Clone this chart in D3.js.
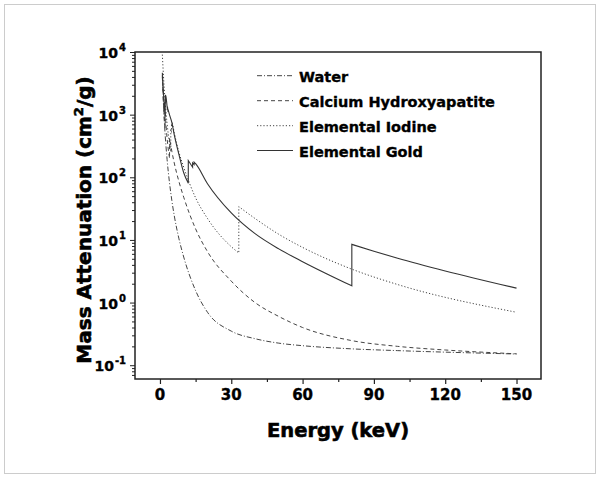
<!DOCTYPE html>
<html>
<head>
<meta charset="utf-8">
<script src="https://cdn.jsdelivr.net/npm/d3@7/dist/d3.min.js"></script>
<style>
  html, body { margin: 0; padding: 0; background: #fff; }
  svg { display: block; }
  text { font-family: "DejaVu Sans", sans-serif; font-weight: bold; fill: #000; stroke: #000; stroke-width: 0.35; }
  text.title { stroke-width: 0.6; }
</style>
</head>
<body>
<svg id="chart" width="601" height="479"></svg>
<script>
// ---- Data ----
const waterE  = [1, 1.5, 2, 3, 4, 5, 6, 8, 10, 15, 20, 30, 40, 50, 60, 80, 100, 150];
const waterMu = [4078, 1376, 617, 193, 82.8, 42.6, 24.6, 10.4, 5.33, 1.55, 0.7, 0.35, 0.265, 0.225, 0.205, 0.183, 0.171, 0.151];

const cahaE  = [1, 1.5, 2, 2.145, 2.145, 3, 4.038, 4.038, 5, 6, 8, 10, 15, 20, 30, 40, 50, 60, 80, 100, 120, 150];
const cahaMu = [4300, 1500, 720, 600, 1100, 420, 200, 420, 260, 170, 85, 48, 15, 6.5, 2.2, 1.0, 0.6, 0.4, 0.25, 0.2, 0.175, 0.152];

const iodineE  = [1, 1.5, 2, 3, 4, 4.557, 4.557, 4.852, 4.852, 5.188, 5.188, 6, 8, 10, 15, 20, 30, 33.17, 33.17, 40, 50, 60, 80, 100, 150];
const iodineMu = [9096, 4000, 2000, 720, 350, 255, 600, 520, 720, 640, 740, 520, 250, 145, 47, 22, 7.8, 6.2, 34, 22, 12.3, 7.6, 3.5, 1.94, 0.70];

const goldE  = [1, 1.5, 2, 2.206, 2.206, 2.291, 2.291, 2.5, 3, 3.148, 3.148, 3.425, 3.425, 4, 5, 6, 8, 10, 11.92, 11.92, 13.73, 13.73, 14.35, 14.35, 15, 20, 30, 40, 50, 60, 80.72, 80.72, 90, 100, 120, 150];
const goldMu = [4652, 2090, 1137, 930, 1600, 1500, 2050, 1950, 1350, 1200, 1350, 1100, 1200, 1000, 750, 480, 230, 118, 80, 185, 145, 170, 160, 175, 165, 79, 27, 12.6, 7.2, 4.5, 1.85, 8.5, 6.6, 5.1, 3.2, 1.7];

const seriesNames = ["Water", "Calcium Hydroxyapatite", "Elemental Iodine", "Elemental Gold"];
const xTickValues = [0, 30, 60, 90, 120, 150];
const xMinorValues = [15, 45, 75, 105, 135];
const yDecades = [-1, 0, 1, 2, 3, 4];

// ---- Layout ----
const svg = d3.select("#chart");
const pL = 135, pR = 541, pT = 52, pB = 379;

const x = d3.scaleLinear().domain([-10.5, 160.3]).range([pL, pR]);
const y = d3.scaleLog().domain([Math.pow(10, -1.22), 1e4]).range([pB, pT]);

// outer dotted border
svg.append("rect")
  .attr("x", 4.5).attr("y", 4.5).attr("width", 591).attr("height", 469)
  .attr("fill", "none").attr("stroke", "#999").attr("stroke-width", 1)
  .attr("stroke-dasharray", "1,1");

// x axis ticks
const xAxisMajor = d3.axisBottom(x).tickValues(xTickValues).tickSize(5).tickFormat("");
const xAxisMinor = d3.axisBottom(x).tickValues(xMinorValues).tickSize(3).tickFormat("");
const gxa = svg.append("g").attr("transform", `translate(0,${pB})`).call(xAxisMajor);
const gxb = svg.append("g").attr("transform", `translate(0,${pB})`).call(xAxisMinor);
[gxa, gxb].forEach(g => { g.select(".domain").remove(); g.selectAll("line").attr("stroke", "#222").attr("stroke-width", 1.2); });

svg.append("g").selectAll("text").data(xTickValues).join("text")
  .attr("x", d => x(d)).attr("y", 400)
  .attr("text-anchor", "middle").attr("font-size", 15)
  .text(d => d);

// y axis ticks
const [yLo, yHi] = y.domain();
const yMinor = [];
for (let e = -2; e <= 3; e++) for (let m = 2; m <= 9; m++) {
  const v = m * Math.pow(10, e);
  if (v >= yLo && v <= yHi) yMinor.push(v);
}
const yMajorVals = yDecades.map(e => Math.pow(10, e));
const gya = svg.append("g").attr("transform", `translate(${pL},0)`).call(d3.axisLeft(y).tickValues(yMajorVals).tickSize(5).tickFormat(""));
const gyb = svg.append("g").attr("transform", `translate(${pL},0)`).call(d3.axisLeft(y).tickValues(yMinor).tickSize(3).tickFormat(""));
[gya, gyb].forEach(g => { g.select(".domain").remove(); g.selectAll("line").attr("stroke", "#222").attr("stroke-width", 1); });

const ylab = svg.append("g").selectAll("text").data(yDecades).join("text")
  .attr("x", 126).attr("y", d => y(Math.pow(10, d)) + 6)
  .attr("text-anchor", "end").attr("font-size", 14);
ylab.append("tspan").text("10");
ylab.append("tspan").attr("dx", 1).attr("dy", -7).attr("font-size", 10).text(d => d);

// frame
svg.append("rect")
  .attr("x", pL).attr("y", pT).attr("width", pR - pL).attr("height", pB - pT)
  .attr("fill", "none").attr("stroke", "#222").attr("stroke-width", 1.5);

// titles
svg.append("text").attr("class", "title").attr("x", (pL + pR) / 2).attr("y", 437)
  .attr("text-anchor", "middle").attr("font-size", 19.5).text("Energy (keV)");

const yt = svg.append("text").attr("class", "title")
  .attr("transform", "translate(91,220) rotate(-90)")
  .attr("text-anchor", "middle").attr("font-size", 20);
yt.append("tspan").text("Mass Attenuation (cm");
yt.append("tspan").attr("dy", -8).attr("font-size", 13).text("2");
yt.append("tspan").attr("dy", 8).text("/g)");

// ---- curves ----
const line = d3.line().x(d => x(d[0])).y(d => y(d[1])).curve(d3.curveMonotoneX);
function buildPath(E, mu) {
  const segs = [];
  let cur = [];
  E.forEach((e, i) => {
    if (i > 0 && e === E[i - 1]) { segs.push(cur); cur = []; }
    cur.push([e, mu[i]]);
  });
  segs.push(cur);
  let d = "";
  segs.forEach((s, i) => {
    let p = line(s);
    if (i > 0) p = "L" + p.slice(1);
    d += p;
  });
  return d;
}

const styles = [
  { E: waterE,  mu: waterMu,  dash: "5,2,1,2", color: "#444", w: 1 },
  { E: cahaE,   mu: cahaMu,   dash: "4,3",     color: "#444", w: 1 },
  { E: iodineE, mu: iodineMu, dash: "1.2,2",   color: "#444", w: 1 },
  { E: goldE,   mu: goldMu,   dash: null,      color: "#333", w: 1.1 }
];

svg.append("clipPath").attr("id", "clip").append("rect")
  .attr("x", pL).attr("y", pT).attr("width", pR - pL).attr("height", pB - pT);

const gLines = svg.append("g").attr("clip-path", "url(#clip)");
styles.forEach(s => {
  gLines.append("path")
    .attr("d", buildPath(s.E, s.mu))
    .attr("fill", "none").attr("stroke", s.color).attr("stroke-width", s.w)
    .attr("stroke-dasharray", s.dash);
});

// ---- legend ----
const legendBase = [81.7, 106.7, 131.7, 156.5];
const lg = svg.append("g");
seriesNames.forEach((name, i) => {
  lg.append("line")
    .attr("x1", 257).attr("x2", 293)
    .attr("y1", legendBase[i] - 6).attr("y2", legendBase[i] - 6)
    .attr("stroke", styles[i].color).attr("stroke-width", styles[i].w)
    .attr("stroke-dasharray", styles[i].dash);
  lg.append("text").attr("x", 299).attr("y", legendBase[i])
    .attr("font-size", 14.5).text(name);
});
</script>
</body>
</html>
